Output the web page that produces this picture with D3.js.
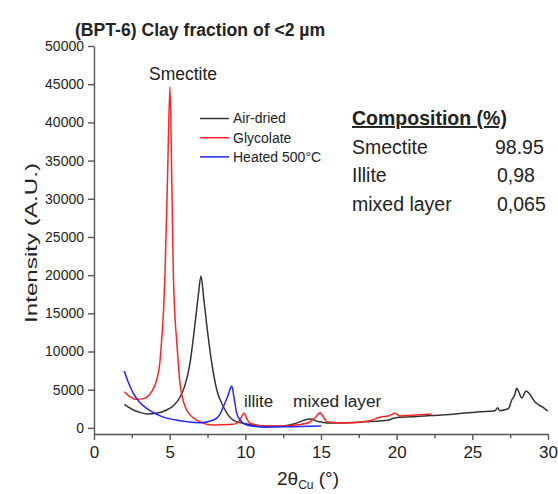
<!DOCTYPE html>
<html>
<head>
<meta charset="utf-8">
<script src="https://cdn.jsdelivr.net/npm/d3@7"></script>
<style>
  body { margin: 0; background: #fff; }
  text { font-family: "Liberation Sans", Arial, sans-serif; fill: #222; }
</style>
</head>
<body>
<div id="chart"></div>
<script>
// values (2theta in degrees, intensity in A.U.)
var airX = [2.0, 2.3, 2.6, 3.0, 3.5, 4.1, 4.8, 5.3, 5.7, 6.0, 6.34, 6.68, 6.9, 7.07, 7.25, 7.45, 7.78, 8.11, 8.55, 9.2, 10.1, 10.8, 11.4, 12.5, 13.2, 13.8, 14.3, 14.8, 15.4, 16.7, 18.0, 18.9, 19.4, 19.8, 20.2, 21.0, 22.3, 23.5, 24.5, 25.5, 26.5, 26.68, 26.8, 27.2, 27.4, 27.6, 27.8, 27.93, 28.05, 28.27, 28.55, 28.8, 29.1, 29.4, 29.6, 29.8, 30.0];
var airY = [3090, 2700, 2340, 2050, 1820, 1910, 2340, 3000, 4080, 5500, 8460, 13690, 17500, 19900, 17000, 13500, 8500, 5000, 2770, 1030, 500, 300, 200, 250, 500, 950, 1160, 850, 650, 680, 800, 900, 1000, 1250, 1400, 1450, 1620, 1750, 1950, 2100, 2250, 2640, 2250, 2400, 2565, 3650, 4300, 5180, 4800, 3910, 4830, 4400, 3500, 3000, 2770, 2500, 2210];

var glyX = [2.0, 2.3, 2.82, 3.2, 3.48, 3.8, 4.14, 4.35, 4.47, 4.6, 4.69, 4.85, 5.02, 5.12, 5.24, 5.35, 5.46, 5.68, 6.12, 6.79, 7.89, 9.2, 9.6, 9.91, 10.1, 10.3, 11.4, 12.5, 13.5, 14.2, 14.6, 14.94, 15.2, 15.38, 16.7, 18.2, 18.9, 19.5, 19.9, 20.2, 21.0, 22.3];
var glyY = [4740, 4200, 3740, 3800, 4000, 4700, 6270, 8500, 11500, 15500, 20240, 32000, 44700, 35000, 20240, 14500, 11500, 5840, 2340, 1030, 380, 470, 900, 1910, 1200, 600, 250, 250, 400, 700, 1300, 1990, 1300, 810, 650, 940, 1390, 1600, 1910, 1560, 1650, 1820];

var heatX = [2.0, 2.3, 2.6, 3.0, 3.48, 4.5, 5.68, 7.0, 7.9, 8.3, 8.55, 8.85, 9.1, 9.25, 9.43, 9.7, 10.09, 11.4, 13.0, 15.0];
var heatY = [7450, 5800, 4530, 3400, 2560, 1470, 940, 680, 1030, 1700, 2770, 4200, 5480, 4000, 1910, 900, 380, 100, 150, 250];

var seriesNames = ['Air-dried', 'Glycolate', 'Heated 500\u00b0C'];
var seriesColors = ['#333333', '#ff2424', '#2424ff'];

var compNames = ['Smectite', 'Illite', 'mixed layer'];
var compValues = ['98.95', '0,98', '0,065'];

var yTicks = [0, 5000, 10000, 15000, 20000, 25000, 30000, 35000, 40000, 45000, 50000];
var xTicks = [0, 5, 10, 15, 20, 25, 30];

var width = 558, height = 494;

var svg = d3.select('#chart')
    .append('svg')
    .attr('width', width)
    .attr('height', height);

var x = d3.scaleLinear().domain([0, 30]).range([94, 548]);
var y = d3.scaleLinear().domain([-800, 50000]).range([434, 46]);

// axes
var yAxis = svg.append('g')
    .attr('transform', 'translate(' + x(0) + ',0)')
    .call(d3.axisLeft(y).tickValues(yTicks).tickFormat(d3.format('d')).tickSize(6).tickSizeOuter(0).tickPadding(4));
yAxis.selectAll('text').style('font-size', '14px').attr('fill', '#333');

var xAxis = svg.append('g')
    .attr('transform', 'translate(0,' + y(-800) + ')')
    .call(d3.axisBottom(x).tickValues(xTicks).tickSize(6).tickSizeOuter(0).tickPadding(6));
xAxis.selectAll('text').style('font-size', '17px').attr('fill', '#333');

svg.append('g')
    .attr('transform', 'translate(0,' + y(-800) + ')')
    .call(d3.axisBottom(x).tickValues(d3.range(2.5, 30, 5)).tickSize(4).tickFormat(''))
    .select('.domain').remove();

svg.selectAll('.domain, .tick line').attr('stroke', '#555').attr('stroke-width', 1.4);

// curves
var seriesData = [
    d3.zip(airX, airY),
    d3.zip(glyX, glyY),
    d3.zip(heatX, heatY)
];

var line = d3.line()
    .x(function(d) { return x(d[0]); })
    .y(function(d) { return y(d[1]); })
    .curve(d3.curveMonotoneX);

svg.append('g').selectAll('path')
    .data(seriesData)
    .enter()
    .append('path')
    .attr('d', line)
    .attr('fill', 'none')
    .attr('stroke-width', 1.5)
    .attr('stroke', function(d, i) { return seriesColors[i]; });

// legend
var legend = svg.append('g').selectAll('g')
    .data(seriesNames)
    .enter()
    .append('g')
    .attr('transform', function(d, i) { return 'translate(200,' + (118.5 + i * 19.2) + ')'; });
legend.append('line')
    .attr('x1', 0).attr('x2', 29)
    .attr('stroke-width', 1.5)
    .attr('stroke', function(d, i) { return seriesColors[i]; });
legend.append('text')
    .attr('x', 33)
    .attr('dy', '0.35em')
    .style('font-size', '14px')
    .text(function(d) { return d; });

// title
svg.append('text')
    .attr('x', 75).attr('y', 36)
    .style('font-size', '17.6px')
    .style('font-weight', 'bold')
    .text('(BPT-6) Clay fraction of <2 \u00b5m');

// axis titles
svg.append('text')
    .attr('transform', 'translate(37,243) rotate(-90)')
    .attr('text-anchor', 'middle')
    .attr('textLength', 160)
    .attr('lengthAdjust', 'spacingAndGlyphs')
    .style('font-size', '17px')
    .text('Intensity (A.U.)');

var xl = svg.append('text')
    .attr('x', 277).attr('y', 485)
    .style('font-size', '19px');
xl.append('tspan').text('2\u03b8');
xl.append('tspan').attr('dy', 4).style('font-size', '12px').text('Cu');
xl.append('tspan').attr('dy', -4).text(' (\u00b0)');

// peak labels
svg.append('text').attr('x', 149).attr('y', 80).style('font-size', '17.5px').text('Smectite');
svg.append('text').attr('x', 244).attr('y', 406.5).style('font-size', '17px').text('illite');
svg.append('text').attr('x', 293).attr('y', 406.5).style('font-size', '17.3px').text('mixed layer');

// composition table
svg.append('text')
    .attr('x', 352).attr('y', 125)
    .style('font-size', '19.5px')
    .style('font-weight', 'bold')
    .style('text-decoration', 'underline')
    .text('Composition (%)');

var rows = svg.append('g').selectAll('g')
    .data(compNames)
    .enter()
    .append('g')
    .attr('transform', function(d, i) { return 'translate(0,' + (153.5 + i * 28.5) + ')'; });
rows.append('text')
    .attr('x', 352)
    .style('font-size', '19.5px')
    .text(function(d) { return d; });
rows.append('text')
    .attr('x', function(d, i) { return i === 0 ? 495 : 497; })
    .style('font-size', '19.5px')
    .text(function(d, i) { return compValues[i]; });
</script>
</body>
</html>
